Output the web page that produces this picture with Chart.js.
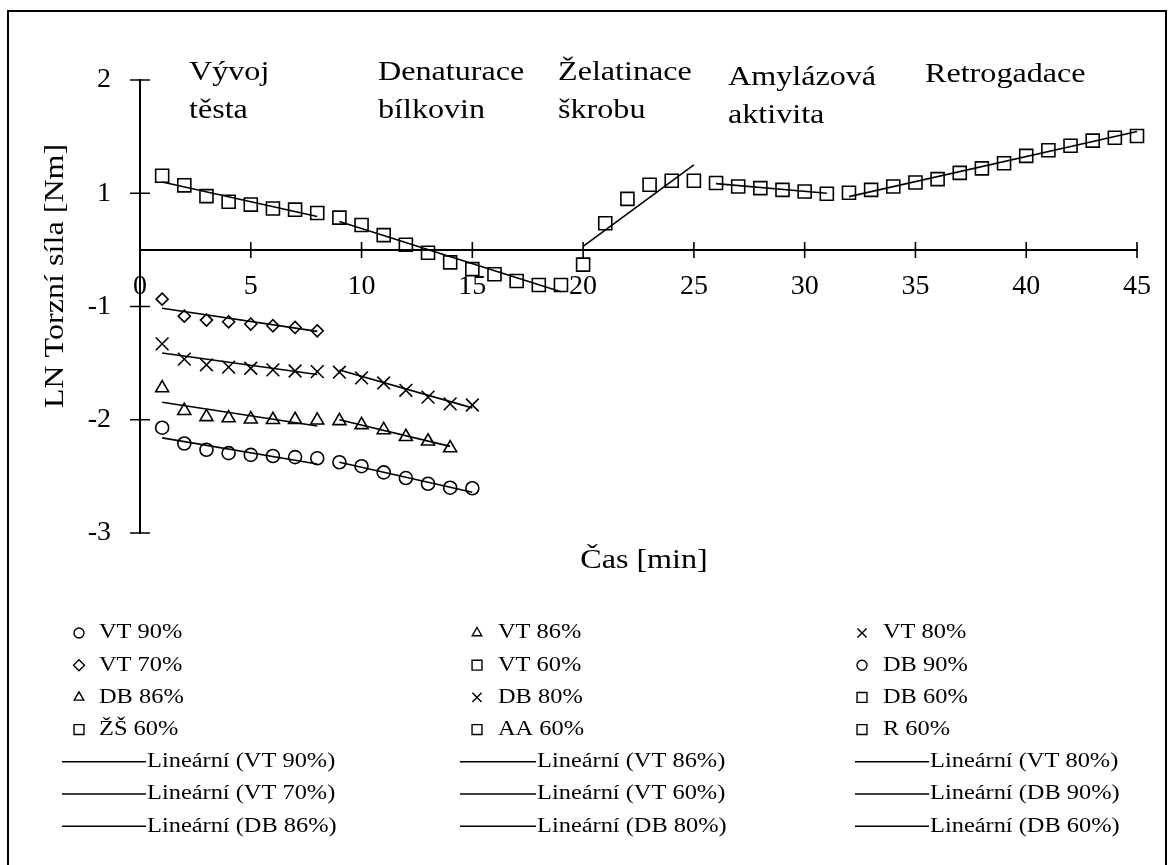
<!DOCTYPE html>
<html lang="cs">
<head>
<meta charset="UTF-8">
<title>LN Torzní síla během hnětení</title>
<script src="https://cdn.jsdelivr.net/npm/chart.js"></script>
<style>
  html, body { margin: 0; padding: 0; background: #fff; }
  #wrap { width: 1171px; height: 865px; position: relative; }
</style>
</head>
<body>
<div id="wrap"><canvas id="graf"></canvas></div>
<script>
// časy měření [min]
const casVT = [1, 2, 3, 4, 5, 6, 7, 8];
const casDB = [9, 10, 11, 12, 13, 14, 15];
const casDB86 = [9, 10, 11, 12, 13, 14];
const casDB60 = [9, 10, 11, 12, 13, 14, 15, 16, 17, 18, 19];
const casZS = [20, 21, 22, 23, 24, 25];
const casAA = [26, 27, 28, 29, 30, 31];
const casR = [32, 33, 34, 35, 36, 37, 38, 39, 40, 41, 42, 43, 44, 45];

// LN torzní síly [Nm]
const vt90 = [-1.57, -1.71, -1.765, -1.795, -1.81, -1.82, -1.83, -1.84];
const vt86 = [-1.22, -1.42, -1.475, -1.485, -1.495, -1.5, -1.5, -1.505];
const vt80 = [-0.83, -0.965, -1.015, -1.035, -1.045, -1.06, -1.07, -1.075];
const vt70 = [-0.435, -0.585, -0.62, -0.635, -0.655, -0.67, -0.685, -0.715];
const vt60 = [0.655, 0.57, 0.475, 0.425, 0.4, 0.365, 0.355, 0.325];
const db90 = [-1.875, -1.91, -1.965, -2.015, -2.065, -2.1, -2.105];
const db86 = [-1.51, -1.545, -1.59, -1.65, -1.69, -1.75];
const db80 = [-1.08, -1.13, -1.175, -1.24, -1.3, -1.36, -1.37];
const db60 = [0.285, 0.22, 0.13, 0.045, -0.025, -0.11, -0.17, -0.215, -0.275, -0.31, -0.31];
const zs60 = [-0.13, 0.235, 0.45, 0.575, 0.61, 0.61];
const aa60 = [0.59, 0.56, 0.545, 0.53, 0.515, 0.495];
const r60 = [0.505, 0.53, 0.56, 0.595, 0.625, 0.68, 0.72, 0.765, 0.83, 0.88, 0.92, 0.965, 0.99, 1.005];

// lineární trendy: hodnoty na začátku a konci úseku
const trendVT90 = [-1.66, -1.89];
const trendVT86 = [-1.345, -1.555];
const trendVT80 = [-0.91, -1.1];
const trendVT70 = [-0.515, -0.72];
const trendVT60 = [0.6, 0.295];
const trendDB90 = [-1.875, -2.14];
const trendDB86 = [-1.5, -1.735];
const trendDB80 = [-1.06, -1.395];
const trendDB60 = [0.25, -0.37];
const trendZS = [0.03, 0.75];
const trendAA = [0.585, 0.5];
const trendR = [0.47, 1.045];

// popisky os a fází
const xTicks = { min: 0, max: 45, step: 5 };
const yTicks = { min: -2.5, max: 1.5, step: 1 };
const xTitle = 'Čas [min]';
const yTitle = 'LN Torzní síla [Nm]';
const phases = [
  { lines: ['Vývoj', 'těsta'], x: 189, y: 80 },
  { lines: ['Denaturace', 'bílkovin'], x: 378, y: 80 },
  { lines: ['Želatinace', 'škrobu'], x: 558, y: 80 },
  { lines: ['Amylázová', 'aktivita'], x: 728, y: 85 },
  { lines: ['Retrogadace'], x: 925, y: 82 }
];

const FONT = '"Liberation Serif", "Times New Roman", serif';
const STRETCH = 1.19;   // texty jsou v originále do šířky roztažené

function pts(times, values) {
  return times.map((t, i) => ({ x: t, y: values[i] }));
}

function markerSet(label, times, values, style, radius, legendRadius) {
  return {
    label: label,
    data: pts(times, values),
    showLine: false,
    pointStyle: style,
    pointRadius: radius,
    pointHoverRadius: radius,
    pointBorderColor: '#000',
    pointBackgroundColor: 'rgba(0,0,0,0)',
    pointBorderWidth: 1.6,
    clip: false,
    legendRadius: legendRadius
  };
}

function trendSet(label, t0, t1, ends, inLegend) {
  return {
    label: label,
    data: [{ x: t0, y: ends[0] }, { x: t1, y: ends[1] }],
    showLine: true,
    borderColor: '#000',
    borderWidth: 1.6,
    pointRadius: 0,
    pointHoverRadius: 0,
    clip: false,
    inLegend: inLegend
  };
}

const datasets = [
  markerSet('VT 90%', casVT, vt90, 'circle', 6.5, 5),
  markerSet('VT 86%', casVT, vt86, 'triangle', 7.5, 5.5),
  markerSet('VT 80%', casVT, vt80, 'crossRot', 9, 6.5),
  markerSet('VT 70%', casVT, vt70, 'rectRot', 6, 5.5),
  markerSet('VT 60%', casVT, vt60, 'rect', 9.2, 7),
  markerSet('DB 90%', casDB, db90, 'circle', 6.5, 5),
  markerSet('DB 86%', casDB86, db86, 'triangle', 7.5, 5.5),
  markerSet('DB 80%', casDB, db80, 'crossRot', 9, 6.5),
  markerSet('DB 60%', casDB60, db60, 'rect', 9.2, 7),
  markerSet('ŽŠ 60%', casZS, zs60, 'rect', 9.2, 7),
  markerSet('AA 60%', casAA, aa60, 'rect', 9.2, 7),
  markerSet('R 60%', casR, r60, 'rect', 9.2, 7),
  trendSet('Lineární (VT 90%)', 1, 8, trendVT90, true),
  trendSet('Lineární (VT 86%)', 1, 8, trendVT86, true),
  trendSet('Lineární (VT 80%)', 1, 8, trendVT80, true),
  trendSet('Lineární (VT 70%)', 1, 8, trendVT70, true),
  trendSet('Lineární (VT 60%)', 1, 8, trendVT60, true),
  trendSet('Lineární (DB 90%)', 9, 15, trendDB90, true),
  trendSet('Lineární (DB 86%)', 9, 14, trendDB86, true),
  trendSet('Lineární (DB 80%)', 9, 15, trendDB80, true),
  trendSet('Lineární (DB 60%)', 9, 19, trendDB60, true),
  trendSet('Lineární (ŽŠ 60%)', 20, 25, trendZS, false),
  trendSet('Lineární (AA 60%)', 26, 31, trendAA, false),
  trendSet('Lineární (R 60%)', 32, 45, trendR, false)
];

// rozmístění legendy (3 sloupce)
const legendLayout = {
  top: 633, rowGap: 32.2, fontSize: 20.5,
  marker: [79, 477, 862], markerText: [99, 498, 883],
  lineFrom: [62, 460, 855], lineTo: [146, 536, 929], lineText: [147, 537, 930]
};

function wideText(ctx, text, x, y, align) {
  ctx.save();
  ctx.translate(x, y);
  ctx.scale(STRETCH, 1);
  ctx.textAlign = align || 'left';
  ctx.fillText(text, 0, 0);
  ctx.restore();
}

function drawMarker(ctx, style, radius, x, y) {
  if (Chart.helpers && Chart.helpers.drawPoint) {
    Chart.helpers.drawPoint(ctx, { pointStyle: style, radius: radius, borderWidth: 1.4, rotation: 0 }, x, y);
    return;
  }
  ctx.beginPath();
  ctx.arc(x, y, radius, 0, Math.PI * 2);
  ctx.stroke();
}

const decor = {
  id: 'decor',
  afterDraw(chart) {
    const ctx = chart.ctx;
    const area = chart.chartArea;
    const xs = chart.scales.x;
    const ys = chart.scales.y;
    ctx.save();
    ctx.strokeStyle = '#000';
    ctx.fillStyle = '#000';

    // rámeček grafu
    ctx.lineWidth = 2;
    ctx.strokeRect(8, 11, 1158, 870);

    // značky os přes osu
    ctx.lineWidth = 1.6;
    const y0 = ys.getPixelForValue(0);
    ctx.beginPath();
    xs.ticks.forEach(t => {
      const px = xs.getPixelForValue(t.value);
      ctx.moveTo(px, y0 - 8);
      ctx.lineTo(px, y0 + 8);
    });
    ys.ticks.forEach(t => {
      const py = ys.getPixelForValue(t.value);
      ctx.moveTo(area.left - 10, py);
      ctx.lineTo(area.left + 10, py);
    });
    ctx.stroke();

    // názvy fází
    ctx.font = '27px ' + FONT;
    ctx.textBaseline = 'alphabetic';
    phases.forEach(p => {
      p.lines.forEach((s, i) => wideText(ctx, s, p.x, p.y + i * 38));
    });

    // názvy os
    wideText(ctx, xTitle, 644, 568, 'center');
    ctx.save();
    ctx.translate(56, 276);
    ctx.rotate(-Math.PI / 2);
    ctx.scale(STRETCH, 1);
    ctx.textAlign = 'center';
    ctx.textBaseline = 'middle';
    ctx.fillText(yTitle, 0, 0);
    ctx.restore();

    // legenda
    const L = legendLayout;
    const items = chart.data.datasets.filter(d => d.inLegend !== false);
    ctx.font = L.fontSize + 'px ' + FONT;
    ctx.textBaseline = 'middle';
    items.forEach((d, i) => {
      const col = i % 3;
      const y = L.top + Math.floor(i / 3) * L.rowGap;
      if (d.showLine) {
        ctx.lineWidth = 1.6;
        ctx.beginPath();
        ctx.moveTo(L.lineFrom[col], y);
        ctx.lineTo(L.lineTo[col], y);
        ctx.stroke();
        wideText(ctx, d.label, L.lineText[col], y);
      } else {
        ctx.save();
        ctx.lineWidth = 1.4;
        ctx.fillStyle = 'rgba(0,0,0,0)';
        drawMarker(ctx, d.pointStyle, d.legendRadius, L.marker[col], y);
        ctx.restore();
        wideText(ctx, d.label, L.markerText[col], y);
      }
    });
    ctx.restore();
  }
};

function roundAway(v) {
  return String(Math.sign(v) * Math.round(Math.abs(v)));
}

const ctx = document.getElementById('graf').getContext('2d');
new Chart(ctx, {
  type: 'scatter',
  data: { datasets: datasets },
  options: {
    responsive: true,
    maintainAspectRatio: false,
    animation: false,
    events: [],
    layout: { padding: { left: 0, right: 18, top: 80, bottom: 332 } },
    plugins: {
      legend: { display: false },
      tooltip: { enabled: false }
    },
    scales: {
      x: {
        type: 'linear',
        position: { y: 0 },
        min: xTicks.min,
        max: xTicks.max,
        ticks: {
          stepSize: xTicks.step,
          color: '#000',
          font: { family: FONT, size: 28 },
          padding: 20,
          maxRotation: 0,
          autoSkip: false
        },
        grid: { display: false, drawTicks: false },
        border: { display: true, color: '#000', width: 2 }
      },
      y: {
        type: 'linear',
        position: 'left',
        min: yTicks.min,
        max: yTicks.max,
        ticks: {
          stepSize: yTicks.step,
          color: '#000',
          font: { family: FONT, size: 28 },
          padding: 29,
          callback: roundAway
        },
        grid: { display: false, drawTicks: false },
        border: { display: true, color: '#000', width: 2 },
        afterFit(scale) { scale.width = 140; }
      }
    }
  },
  plugins: [decor]
});
</script>
</body>
</html>
